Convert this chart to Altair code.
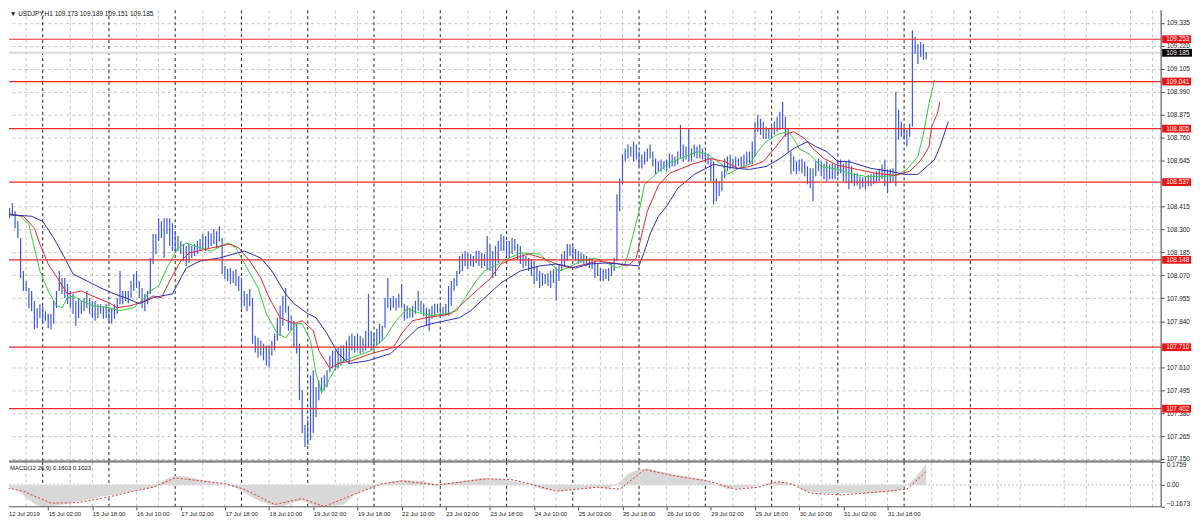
import json
import altair as alt
import pandas as pd

# ---------------- data ----------------
# hourly bars, index 0 = 12 Jul 2019 10:00
HIGH = [
    108.426, 108.401, 108.406, 108.431, 108.391, 108.341, 108.257, 108.092, 108.042, 108.007,
    107.992, 107.942, 107.905, 107.925, 107.915, 107.890, 107.878, 107.878, 107.942, 107.992,
    108.092, 108.057, 108.057, 108.027, 107.992, 107.977, 107.942, 107.957, 107.942, 107.957,
    107.992, 107.957, 107.942, 107.942, 107.925, 107.925, 107.915, 107.925, 107.905, 107.905,
    107.925, 107.957, 108.092, 107.992, 107.992, 107.992, 108.042, 108.077, 108.092, 108.042,
    108.007, 107.977, 107.992, 108.157, 108.277, 108.277, 108.356, 108.341, 108.356, 108.356,
    108.356, 108.331, 108.291, 108.267, 108.242, 108.227, 108.217, 108.227, 108.217, 108.227,
    108.242, 108.252, 108.277, 108.267, 108.291, 108.281, 108.301, 108.291, 108.316, 108.257,
    108.117, 108.102, 108.107, 108.092, 108.102, 108.067, 108.057, 107.992, 107.977, 108.002,
    107.957, 107.768, 107.758, 107.743, 107.728, 107.718, 107.718, 107.743, 107.778, 107.858,
    107.918, 107.967, 108.007, 107.918, 107.868, 107.843, 107.828, 107.728, 107.494, 107.320,
    107.344, 107.569, 107.594, 107.509, 107.544, 107.559, 107.569, 107.594, 107.668, 107.693,
    107.693, 107.708, 107.718, 107.718, 107.743, 107.768, 107.778, 107.768, 107.778, 107.768,
    107.758, 107.793, 107.977, 107.793, 107.783, 107.803, 107.828, 107.818, 107.957, 108.057,
    107.957, 107.967, 107.957, 107.977, 108.027, 107.928, 107.918, 107.908, 107.918, 107.943,
    107.993, 107.943, 107.928, 107.908, 107.903, 107.918, 107.928, 107.928, 107.918, 107.913,
    107.928, 108.017, 108.042, 108.057, 108.092, 108.167, 108.177, 108.192, 108.182, 108.177,
    108.167, 108.192, 108.192, 108.182, 108.177, 108.267, 108.227, 108.192, 108.217, 108.242,
    108.277, 108.267, 108.242, 108.242, 108.257, 108.252, 108.227, 108.217, 108.177, 108.167,
    108.157, 108.152, 108.142, 108.117, 108.092, 108.082, 108.077, 108.082, 108.092, 108.102,
    108.107, 108.127, 108.177, 108.192, 108.227, 108.227, 108.217, 108.202, 108.192, 108.182,
    108.177, 108.167, 108.157, 108.152, 108.142, 108.127, 108.107, 108.102, 108.102, 108.107,
    108.132, 108.157, 108.476, 108.556, 108.675, 108.705, 108.725, 108.715, 108.740, 108.725,
    108.690, 108.675, 108.690, 108.705, 108.725, 108.690, 108.655, 108.640, 108.650, 108.640,
    108.650, 108.680, 108.675, 108.665, 108.690, 108.825, 108.725, 108.715, 108.805, 108.705,
    108.725, 108.715, 108.725, 108.705, 108.690, 108.680, 108.655, 108.640, 108.556, 108.541,
    108.591, 108.655, 108.665, 108.675, 108.655, 108.665, 108.655, 108.665, 108.675, 108.690,
    108.690, 108.740, 108.840, 108.875, 108.855, 108.840, 108.815, 108.805, 108.815, 108.840,
    108.865, 108.890, 108.940, 108.865, 108.805, 108.690, 108.665, 108.640, 108.650, 108.655,
    108.640, 108.616, 108.606, 108.606, 108.640, 108.655, 108.640, 108.630, 108.640, 108.626,
    108.630, 108.626, 108.640, 108.650, 108.630, 108.640, 108.650, 108.616, 108.581, 108.581,
    108.566, 108.561, 108.566, 108.571, 108.576, 108.581, 108.591, 108.601, 108.626, 108.650,
    108.601, 108.601, 108.606, 108.990, 108.900, 108.840, 108.815, 108.800, 108.830, 109.298,
    109.264, 109.229, 109.239, 109.229, 109.189,
]
LOW = [
    108.341, 108.326, 108.356, 108.366, 108.306, 108.257, 108.057, 107.992, 107.992, 107.905,
    107.890, 107.800, 107.805, 107.856, 107.828, 107.843, 107.805, 107.800, 107.828, 107.905,
    107.992, 107.977, 107.957, 107.925, 107.905, 107.878, 107.818, 107.856, 107.878, 107.890,
    107.905, 107.878, 107.856, 107.843, 107.856, 107.878, 107.853, 107.856, 107.833, 107.828,
    107.853, 107.878, 107.925, 107.925, 107.942, 107.930, 107.957, 107.992, 108.007, 107.957,
    107.905, 107.890, 107.925, 107.977, 108.127, 108.177, 108.242, 108.257, 108.157, 108.277,
    108.217, 108.192, 108.192, 108.192, 108.177, 108.142, 108.117, 108.132, 108.157, 108.167,
    108.177, 108.192, 108.202, 108.192, 108.207, 108.217, 108.227, 108.207, 108.242, 108.077,
    108.052, 108.042, 108.027, 108.032, 108.017, 107.992, 107.905, 107.915, 107.890, 107.915,
    107.728, 107.684, 107.659, 107.669, 107.644, 107.619, 107.609, 107.669, 107.693, 107.743,
    107.768, 107.818, 107.883, 107.793, 107.793, 107.708, 107.679, 107.444, 107.280, 107.210,
    107.220, 107.245, 107.280, 107.359, 107.444, 107.479, 107.494, 107.509, 107.584, 107.604,
    107.594, 107.604, 107.619, 107.634, 107.644, 107.629, 107.693, 107.684, 107.693, 107.679,
    107.684, 107.693, 107.708, 107.693, 107.693, 107.718, 107.728, 107.743, 107.808, 107.908,
    107.893, 107.908, 107.893, 107.908, 107.908, 107.843, 107.853, 107.858, 107.858, 107.878,
    107.893, 107.883, 107.868, 107.818, 107.793, 107.853, 107.868, 107.883, 107.858, 107.863,
    107.868, 107.868, 107.918, 107.993, 108.017, 108.077, 108.092, 108.117, 108.102, 108.117,
    108.112, 108.132, 108.117, 108.107, 108.117, 108.102, 108.092, 108.057, 108.067, 108.132,
    108.192, 108.192, 108.167, 108.157, 108.177, 108.192, 108.152, 108.127, 108.107, 108.117,
    108.092, 108.067, 108.027, 108.042, 108.007, 108.017, 108.027, 108.017, 108.007, 108.032,
    107.943, 108.042, 108.092, 108.117, 108.142, 108.167, 108.152, 108.142, 108.127, 108.132,
    108.127, 108.117, 108.107, 108.102, 108.057, 108.067, 108.042, 108.042, 108.052, 108.042,
    108.067, 108.092, 108.142, 108.391, 108.526, 108.640, 108.655, 108.665, 108.640, 108.650,
    108.615, 108.605, 108.625, 108.640, 108.655, 108.615, 108.576, 108.590, 108.590, 108.600,
    108.590, 108.605, 108.615, 108.615, 108.625, 108.655, 108.640, 108.650, 108.640, 108.640,
    108.665, 108.655, 108.655, 108.650, 108.640, 108.625, 108.541, 108.426, 108.441, 108.466,
    108.491, 108.556, 108.591, 108.601, 108.606, 108.606, 108.616, 108.606, 108.616, 108.626,
    108.631, 108.626, 108.665, 108.790, 108.775, 108.755, 108.755, 108.755, 108.765, 108.775,
    108.790, 108.800, 108.805, 108.765, 108.690, 108.576, 108.591, 108.576, 108.591, 108.581,
    108.566, 108.526, 108.506, 108.441, 108.566, 108.591, 108.566, 108.551, 108.541, 108.551,
    108.551, 108.551, 108.566, 108.581, 108.541, 108.531, 108.501, 108.531, 108.516, 108.521,
    108.501, 108.511, 108.501, 108.516, 108.516, 108.526, 108.531, 108.541, 108.551, 108.516,
    108.481, 108.531, 108.541, 108.516, 108.750, 108.765, 108.750, 108.715, 108.765, 108.815,
    109.179, 109.129, 109.164, 109.149, 109.151,
]

# Alligator-style moving averages (bar index, price)
GREEN = [(0, 108.381), (6, 108.366), (9, 108.326), (11, 108.207), (13, 108.092), (16, 107.992),
         (19, 107.918), (21, 107.908), (23, 107.958), (25, 107.967), (28, 107.943), (32, 107.918),
         (38, 107.908), (42, 107.893), (47, 107.908), (51, 107.958), (53, 107.992), (56, 108.017),
         (59, 108.107), (63, 108.207), (66, 108.232), (69, 108.217), (75, 108.192), (81, 108.232),
         (84, 108.207), (88, 108.107), (92, 108.007), (95, 107.878), (99, 107.778), (102, 107.758),
         (106, 107.828), (108, 107.828), (111, 107.743), (113, 107.579), (115, 107.484), (118, 107.554),
         (121, 107.628), (126, 107.658), (133, 107.693), (138, 107.758), (142, 107.843), (146, 107.903),
         (150, 107.883), (155, 107.868), (160, 107.878), (164, 107.893), (167, 107.958), (171, 108.042),
         (174, 108.092), (179, 108.127), (183, 108.157), (187, 108.182), (194, 108.177), (198, 108.127),
         (201, 108.092), (204, 108.107), (209, 108.142), (214, 108.157), (219, 108.127), (222, 108.107),
         (225, 108.127), (227, 108.227), (230, 108.391), (232, 108.526), (236, 108.576), (240, 108.626),
         (244, 108.650), (251, 108.690), (255, 108.675), (260, 108.626), (262, 108.576), (266, 108.606),
         (270, 108.626), (273, 108.690), (276, 108.740), (280, 108.775), (284, 108.790), (286, 108.755),
         (288, 108.705), (292, 108.675), (296, 108.615), (302, 108.601), (306, 108.581), (312, 108.566),
         (319, 108.566), (323, 108.571), (327, 108.601), (331, 108.665), (333, 108.780), (335, 108.930),
         (337, 109.049)]
RED = [(0, 108.381), (7, 108.366), (11, 108.306), (13, 108.227), (16, 108.127), (20, 108.042),
       (23, 107.977), (28, 107.992), (32, 107.967), (38, 107.933), (41, 107.908), (46, 107.918),
       (51, 107.943), (54, 107.967), (57, 107.958), (60, 108.042), (64, 108.142), (67, 108.182),
       (75, 108.207), (82, 108.227), (85, 108.207), (89, 108.142), (93, 108.057), (96, 107.958),
       (100, 107.858), (105, 107.828), (108, 107.843), (112, 107.793), (114, 107.693), (118, 107.604),
       (121, 107.628), (126, 107.643), (133, 107.678), (141, 107.708), (144, 107.778), (148, 107.843),
       (153, 107.858), (158, 107.868), (162, 107.878), (166, 107.928), (171, 107.992), (176, 108.052),
       (180, 108.127), (185, 108.157), (190, 108.177), (195, 108.157), (200, 108.127), (205, 108.107),
       (211, 108.127), (215, 108.142), (221, 108.132), (226, 108.117), (229, 108.157), (231, 108.277),
       (233, 108.391), (237, 108.521), (241, 108.581), (249, 108.626), (256, 108.655), (261, 108.640),
       (266, 108.606), (270, 108.615), (275, 108.640), (279, 108.705), (283, 108.775), (286, 108.790),
       (290, 108.755), (293, 108.705), (297, 108.655), (302, 108.621), (309, 108.601), (316, 108.581),
       (323, 108.571), (328, 108.591), (331, 108.630), (333, 108.665), (335, 108.715), (336, 108.815),
       (338, 108.880), (339, 108.940)]
BLUE = [(0, 108.376), (10, 108.366), (14, 108.341), (18, 108.257), (22, 108.157), (25, 108.077),
        (30, 108.042), (35, 108.007), (40, 107.977), (45, 107.952), (49, 107.928), (54, 107.958),
        (57, 107.967), (61, 107.977), (66, 108.107), (71, 108.142), (78, 108.157), (87, 108.192),
        (93, 108.157), (97, 108.092), (102, 107.977), (105, 107.928), (110, 107.878), (113, 107.858),
        (117, 107.778), (121, 107.678), (125, 107.628), (132, 107.643), (140, 107.678), (144, 107.728),
        (150, 107.808), (155, 107.828), (160, 107.843), (165, 107.858), (169, 107.893), (176, 107.982),
        (180, 108.032), (187, 108.092), (194, 108.117), (200, 108.127), (207, 108.107), (212, 108.127),
        (218, 108.132), (223, 108.127), (230, 108.117), (232, 108.192), (234, 108.277), (237, 108.366),
        (240, 108.416), (244, 108.506), (250, 108.576), (257, 108.626), (265, 108.606), (270, 108.601),
        (276, 108.615), (281, 108.655), (286, 108.705), (291, 108.740), (294, 108.715), (298, 108.690),
        (302, 108.640), (306, 108.640), (314, 108.606), (321, 108.591), (326, 108.576), (331, 108.576),
        (337, 108.650), (339, 108.715), (342, 108.840)]

MACD_MAIN = [(0, -0.02), (5, -0.04), (8, -0.10), (12, -0.16), (17, -0.165), (22, -0.15), (29, -0.12),
             (35, -0.09), (40, -0.075), (46, -0.05), (51, -0.03), (55, -0.015), (58, 0.04), (62, 0.07),
             (66, 0.065), (71, 0.04), (79, 0.01), (84, -0.02), (87, -0.06), (92, -0.12), (96, -0.15),
             (101, -0.165), (105, -0.13), (108, -0.12), (112, -0.16), (116, -0.167), (120, -0.16),
             (123, -0.15), (128, -0.06), (133, -0.03), (137, 0.01), (144, 0.04), (151, 0.03),
             (157, 0.005), (164, 0.025), (173, 0.054), (181, 0.04), (189, 0.01), (195, -0.033),
             (202, -0.048), (206, -0.033), (215, -0.018), (219, -0.03), (223, 0.025), (226, 0.084),
             (229, 0.113), (233, 0.127), (239, 0.098), (246, 0.069), (254, 0.04), (257, 0.01),
             (262, -0.033), (270, -0.018), (276, 0.01), (281, 0.025), (287, 0.0), (290, -0.048),
             (298, -0.062), (305, -0.062), (312, -0.062), (320, -0.055), (325, -0.033), (330, 0.054),
             (334, 0.1603)]
MACD_SIGNAL = [(0, -0.018), (7, -0.048), (17, -0.14), (27, -0.135), (38, -0.092), (47, -0.048),
               (54, -0.018), (62, 0.054), (80, 0.01), (87, -0.033), (98, -0.15), (108, -0.105),
               (116, -0.165), (128, -0.062), (137, 0.01), (144, 0.03), (157, 0.0), (175, 0.047),
               (184, 0.04), (192, 0.0), (200, -0.048), (215, -0.018), (223, -0.033), (232, 0.118),
               (243, 0.069), (255, 0.03), (265, -0.033), (273, -0.018), (280, 0.025), (285, 0.01),
               (292, -0.062), (303, -0.077), (312, -0.062), (320, -0.048), (327, -0.033), (334, 0.1023)]

LEVELS = [109.253, 109.041, 108.805, 108.537, 108.148, 107.710, 107.402]
PRICE_TICKS = [109.335, 109.220, 109.105, 108.990, 108.875, 108.760, 108.645, 108.415,
               108.300, 108.185, 108.070, 107.955, 107.840, 107.610, 107.495, 107.380,
               107.265, 107.150]
LAST_OHLC = [109.173, 109.189, 109.151, 109.185]
MACD_LAST = [0.1603, 0.1023]
MACD_TICKS = [0.1759, 0.0, -0.1673]
TIME_LABELS = ["12 Jul 2019", "15 Jul 02:00", "15 Jul 18:00", "16 Jul 10:00", "17 Jul 02:00",
               "17 Jul 18:00", "18 Jul 10:00", "19 Jul 02:00", "19 Jul 18:00", "22 Jul 10:00",
               "23 Jul 02:00", "23 Jul 18:00", "24 Jul 10:00", "25 Jul 02:00", "25 Jul 18:00",
               "26 Jul 10:00", "29 Jul 02:00", "29 Jul 18:00", "30 Jul 10:00", "31 Jul 02:00",
               "31 Jul 18:00"]
BARS_PER_LABEL = 16
DAY_STARTS = list(range(14, 351, 24))           # 00:00 bars (period separators)
GRID_IDX = [8 * k for k in range(1, 53) if k % 3 != 2]

# ---------------- layout / style ----------------
W, H_MAIN, H_MACD = 1158, 453, 45
X_DOM = [1.8, 419.1]
P_DOM = [107.140, 109.398]
M_DOM = [-0.1673, 0.1759]
FONT = "Liberation Sans"
BAR_BLUE = "#3a5ade"
C_GREEN, C_RED, C_BLUE = "#2ed12e", "#e4282a", "#2c2cc4"
LEVEL_RED = "#ee2a2a"
BOX_RED = "#f01010"
GRID = "#c4c4c4"

xs = alt.Scale(domain=X_DOM, nice=False, zero=False)
ys = alt.Scale(domain=P_DOM, nice=False, zero=False)
ms = alt.Scale(domain=M_DOM, nice=False, zero=False)

bars_df = pd.DataFrame({"i": list(range(len(HIGH))), "hi": HIGH, "lo": LOW})
ma_df = pd.concat([
    pd.DataFrame(GREEN, columns=["i", "v"]).assign(s="lips"),
    pd.DataFrame(RED, columns=["i", "v"]).assign(s="teeth"),
    pd.DataFrame(BLUE, columns=["i", "v"]).assign(s="jaw"),
], ignore_index=True)
grid_df = pd.DataFrame({"i": GRID_IDX})
sep_df = pd.DataFrame({"i": DAY_STARTS})
lvl_df = pd.DataFrame({"lv": LEVELS})
bid_df = pd.DataFrame({"bv": [LAST_OHLC[3]]})
one = pd.DataFrame({"a": [0]})
macd_df = pd.DataFrame(MACD_MAIN, columns=["i", "v"])
sig_df = pd.DataFrame(MACD_SIGNAL, columns=["i", "v"])
zero_df = pd.DataFrame({"z": [0.0]})

# ---- axes (the same object is given to every layer so they merge) ----
price_axis = alt.Axis(orient="right", values=PRICE_TICKS, format=".3f", grid=True,
                      gridColor=GRID, gridDash=[3, 3], domain=False, tickSize=3,
                      tickColor="#444444", labelFont=FONT, labelFontSize=6.5,
                      labelColor="#222222", labelPadding=2, title=None,
                      labelFlush=False, labelOverlap=False)
time_axis = alt.Axis(orient="bottom", values=[BARS_PER_LABEL * k for k in range(1, len(TIME_LABELS))],
                     labelExpr=f"{json.dumps(TIME_LABELS)}[round(datum.value / {BARS_PER_LABEL})]",
                     labelAlign="left", labelBaseline="top", labelFont=FONT, labelFontSize=6,
                     labelColor="#222222", tickSize=3, tickColor="#444444", domain=False,
                     grid=False, labelPadding=1, labelFlush=False, labelOverlap=False,
                     labelBound=False, title=None)
macd_axis = alt.Axis(orient="right", values=MACD_TICKS,
                     labelExpr="datum.value == 0 ? '0.00' : format(datum.value, '.4f')",
                     labelFlush=True, grid=False, domain=False, tickSize=3, tickColor="#444444",
                     labelFont=FONT, labelFontSize=6.5, labelColor="#222222", labelPadding=2,
                     labelOverlap=False, title=None)


def XM(f="i:Q"):
    return alt.X(f, scale=xs, axis=None)


def YM(f):
    return alt.Y(f, scale=ys, axis=price_axis)


def XB(f="i:Q"):
    return alt.X(f, scale=xs, axis=time_axis)


def YB(f):
    return alt.Y(f, scale=ms, axis=macd_axis)


def vgrid(h, xenc):
    return alt.Chart(grid_df).mark_rule(color=GRID, strokeDash=[3, 3], strokeWidth=1).encode(
        x=xenc(), y=alt.value(0), y2=alt.value(h))


def seps(h, xenc):
    return alt.Chart(sep_df).mark_rule(color="#202020", strokeDash=[3, 3], strokeWidth=1).encode(
        x=xenc(), y=alt.value(0), y2=alt.value(h))


def border(x=None, x2=None, y=None, y2=None, color="#5a5a5a", width=1.2):
    enc = {}
    for k, v in (("x", x), ("x2", x2), ("y", y), ("y2", y2)):
        if v is not None:
            enc[k] = alt.value(v)
    return alt.Chart(one).mark_rule(color=color, strokeWidth=width).encode(**enc)


bars = alt.Chart(bars_df).mark_rule(color=BAR_BLUE, strokeWidth=1.2, clip=True).encode(
    x=XM(), y=YM("lo:Q"), y2="hi:Q")

ma_lines = []
for name, col in (("lips", C_GREEN), ("teeth", C_RED), ("jaw", C_BLUE)):
    ma_lines.append(
        alt.Chart(ma_df).transform_filter(alt.datum.s == name)
        .mark_line(strokeWidth=1, clip=True, color=col)
        .encode(x=XM(), y=YM("v:Q"), order="i:Q"))

bid_line = alt.Chart(bid_df).mark_rule(strokeWidth=2, color="#d9d9d9").encode(
    y=YM("bv:Q"), x=alt.value(0), x2=alt.value(W))

# horizontal level lines drawn as thin filled strips (about 1.2 px tall)
LINE_HALF = 0.003
levels = alt.Chart(lvl_df).transform_calculate(
    la=f"datum.lv + {LINE_HALF}", lb=f"datum.lv - {LINE_HALF}").mark_rect(
    color=LEVEL_RED).encode(x=alt.value(0), x2=alt.value(W), y=YM("la:Q"), y2="lb:Q")

HALF = 0.0195
lvl_box = alt.Chart(lvl_df).transform_calculate(
    a=f"datum.lv + {HALF}", b=f"datum.lv - {HALF}").mark_rect(color=BOX_RED).encode(
    x=alt.value(W + 1), x2=alt.value(W + 30), y=YM("a:Q"), y2="b:Q")
lvl_txt = alt.Chart(lvl_df).mark_text(align="left", baseline="middle", color="white",
                                      font=FONT, fontSize=6.5).encode(
    x=alt.value(W + 5), y=YM("lv:Q"), text=alt.Text("lv:Q", format=".3f"))
bid_box = alt.Chart(bid_df).transform_calculate(
    a=f"datum.bv + {HALF}", b=f"datum.bv - {HALF}").mark_rect(color="#000000").encode(
    x=alt.value(W + 1), x2=alt.value(W + 31), y=YM("a:Q"), y2="b:Q")
bid_txt = alt.Chart(bid_df).mark_text(align="left", baseline="middle", color="white",
                                      font=FONT, fontSize=6.5).encode(
    x=alt.value(W + 5), y=YM("bv:Q"), text=alt.Text("bv:Q", format=".3f"))

header = "\u25BC USDJPY,H1  " + " ".join(f"{v:.3f}" for v in LAST_OHLC)
head = alt.Chart(pd.DataFrame({"t": [header]})).mark_text(
    align="left", baseline="top", font=FONT, fontSize=6.5, color="#111111").encode(
    x=alt.value(1), y=alt.value(1), text="t:N")

main = alt.layer(
    vgrid(H_MAIN, XM), seps(H_MAIN, XM), bid_line, bars, *ma_lines, levels,
    lvl_box, lvl_txt, bid_box, bid_txt, head,
    border(x=W, y=0, y2=H_MAIN), border(x=0, x2=W, y=H_MAIN),
).properties(width=W, height=H_MAIN)

# ---------------- MACD pane ----------------
hist = alt.Chart(macd_df).mark_area(color="#d8d8d8", clip=True, interpolate="linear").encode(
    x=XB(), y=YB("v:Q"), y2=alt.datum(0))
zero = alt.Chart(zero_df).mark_rule(color="#b8b8b8", strokeDash=[2, 2]).encode(
    y=YB("z:Q"), x=alt.value(0), x2=alt.value(W))
signal = alt.Chart(sig_df).mark_line(color="#e03030", strokeDash=[2, 2], strokeWidth=1,
                                     clip=True).encode(x=XB(), y=YB("v:Q"))
macd_label = f"MACD(12,26,9) {MACD_LAST[0]:.4f} {MACD_LAST[1]:.4f}"
mlab = alt.Chart(pd.DataFrame({"t": [macd_label]})).mark_text(
    align="left", baseline="top", font=FONT, fontSize=6, color="#111111").encode(
    x=alt.value(1), y=alt.value(3), text="t:N")
first_lab = alt.Chart(pd.DataFrame({"t": [TIME_LABELS[0]]})).mark_text(
    align="left", baseline="top", font=FONT, fontSize=6, color="#222222").encode(
    x=alt.value(0), y=alt.value(H_MACD + 4), text="t:N")

macd = alt.layer(
    vgrid(H_MACD, XB), seps(H_MACD, XB), zero, hist, signal, mlab, first_lab,
    border(x=0, x2=W, y=0), border(x=0, x2=W, y=H_MACD), border(x=W, y=0, y2=H_MACD),
).properties(width=W, height=H_MACD)

chart = alt.vconcat(main, macd, spacing=1, bounds="flush", padding=0).configure_view(stroke=None)

chart.save("out.html", embed_options={"renderer": "svg", "actions": False})
